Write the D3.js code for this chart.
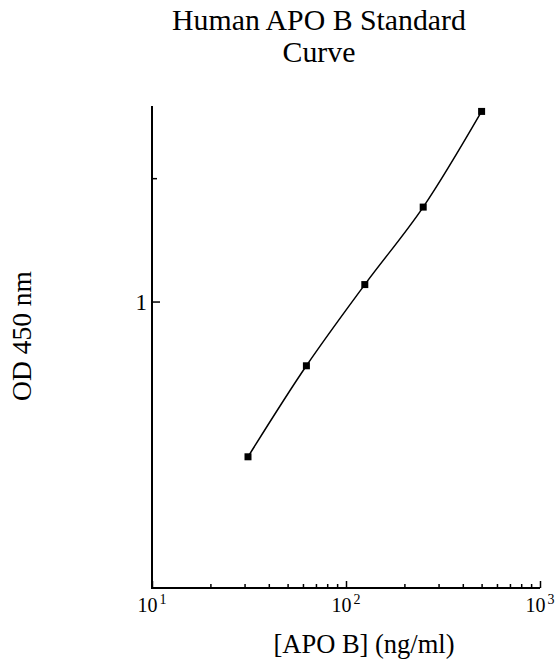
<!DOCTYPE html>
<html><head><meta charset="utf-8">
<script src="https://cdn.jsdelivr.net/npm/d3@7"></script>
<style>body{margin:0;background:#fff}svg{display:block}
text{font-family:"Liberation Serif","Times New Roman",serif;fill:#000}</style>
</head><body>
<svg id="c" width="557" height="665"></svg>
<script>
const concentration = [31.25, 62.5, 125, 250, 500];
const od450 = [0.418, 0.697, 1.10, 1.70, 2.91];
const xMajorTicks = [10, 100, 1000];
const xMinorTicks = [20,30,40,50,60,70,80,90,200,300,400,500,600,700,800,900];
const xTickExponents = ["1","2","3"];
const yMajorTicks = [1];
const yMinorTicks = [2];
const title = ["Human APO B Standard", "Curve"];
const xTitle = "[APO B] (ng/ml)";
const yTitle = "OD 450 nm";

(function(){
const svg = d3.select("#c");
const pL = 152, pR = 540, pT = 106, pB = 588;
const x = d3.scaleLog().domain([10, 1000]).range([pL, pR]);
const y = d3.scaleLog().domain([0.2, 3.0]).range([pB, pT]);

const xa = svg.append("g").attr("transform", `translate(0,${pB})`)
  .call(d3.axisBottom(x).tickValues(xMajorTicks).tickSize(-7).tickFormat(""));
const xm = svg.append("g").attr("transform", `translate(0,${pB})`)
  .call(d3.axisBottom(x).tickValues(xMinorTicks).tickSize(-4).tickFormat(""));
const ya = svg.append("g").attr("transform", `translate(${pL},0)`)
  .call(d3.axisLeft(y).tickValues(yMajorTicks).tickSize(-8).tickFormat(""));
const ym = svg.append("g").attr("transform", `translate(${pL},0)`)
  .call(d3.axisLeft(y).tickValues(yMinorTicks).tickSize(-5).tickFormat(""));
[xa, xm, ya, ym].forEach(g => {
  g.select(".domain").remove();
  g.selectAll(".tick line").attr("stroke", "#000").attr("stroke-width", 1.5);
});
svg.append("line").attr("x1", pL - 1).attr("x2", pR).attr("y1", pB).attr("y2", pB)
  .attr("stroke", "#000").attr("stroke-width", 2);
svg.append("line").attr("x1", pL).attr("x2", pL).attr("y1", pT).attr("y2", pB)
  .attr("stroke", "#000").attr("stroke-width", 2);

xMajorTicks.forEach((v, i) => {
  const t = svg.append("text").attr("x", x(v)).attr("y", 612)
    .attr("text-anchor", "middle").attr("font-size", 20);
  t.append("tspan").text("10");
  t.append("tspan").attr("dx", 2).attr("dy", -8).attr("font-size", 14).text(xTickExponents[i]);
});
yMajorTicks.forEach(v => {
  svg.append("text").attr("x", pL - 5).attr("y", y(v) + 8).attr("text-anchor", "end")
    .attr("font-size", 23).text(String(v));
});

title.forEach((s, i) => {
  svg.append("text").attr("x", 319).attr("y", 30 + i * 32).attr("text-anchor", "middle")
    .attr("font-size", 29.8).text(s);
});
svg.append("text").attr("x", 364).attr("y", 653).attr("text-anchor", "middle")
  .attr("font-size", 26.5).text(xTitle);
svg.append("text").attr("transform", "translate(31,336) rotate(-90)").attr("text-anchor", "middle")
  .attr("font-size", 27.5).text(yTitle);

const pts = concentration.map((c, i) => [c, od450[i]]);
const line = d3.line().x(d => x(d[0])).y(d => y(d[1])).curve(d3.curveCatmullRom.alpha(0.5));
svg.append("path").datum(pts).attr("d", line).attr("fill", "none").attr("stroke", "#000").attr("stroke-width", 1.5);
svg.selectAll("rect.pt").data(pts).enter().append("rect").attr("class", "pt")
  .attr("x", d => x(d[0]) - 3.5).attr("y", d => y(d[1]) - 3.5).attr("width", 7).attr("height", 7).attr("fill", "#000");
})();
</script>
</body></html>
